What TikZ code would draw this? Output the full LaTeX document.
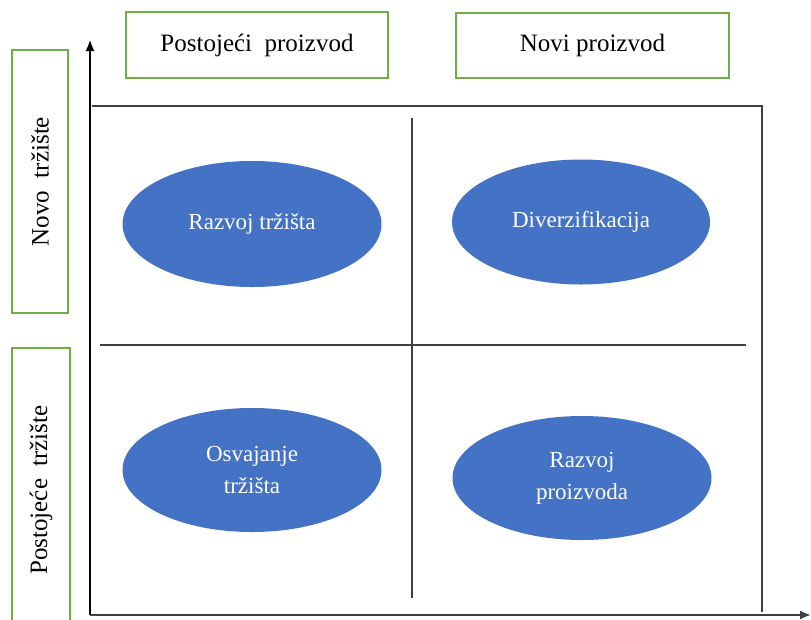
\documentclass[tikz,border=0pt]{standalone}
\usepackage{fontspec}
\setmainfont{Liberation Serif}
\usetikzlibrary{shapes.geometric,arrows.meta}
\definecolor{boxgreen}{HTML}{70AD47}
\definecolor{ellblue}{HTML}{4472C4}
\definecolor{linegray}{HTML}{404040}
\tikzset{
    headbox/.style={draw=boxgreen,line width=1.8pt,fill=white,inner sep=0pt,
        font=\fontsize{25}{30}\selectfont},
    sidebox/.style={headbox,rotate=90},
    strategy/.style={ellipse,fill=ellblue,text=white,inner sep=0pt,align=center,
        minimum width=259pt,minimum height=126pt,font=\fontsize{23}{32}\selectfont},
    gridline/.style={linegray,line width=1.1pt},
}
\begin{document}
\begin{tikzpicture}[x=1pt,y=-1pt]
                \clip (0,0) rectangle (811,619);
                \fill[white] (0,0) rectangle (811,619);
                %% axes
                \coordinate (origin) at (90,615);
                \coordinate (ytip) at (90,40);
                \coordinate (xtip) at (811,615);
                \draw[line width=1.2pt,-{Latex[length=11pt,width=9pt]}] (origin) -- (ytip);
                \draw[linegray,line width=2pt,-{Latex[length=11pt,width=9pt]}] (origin) -- (xtip);
                %% grid
                \coordinate (topl) at (92,106);
                \coordinate (topr) at (762,106);
                \coordinate (botr) at (762,612);
                \coordinate (midt) at (412,118);
                \coordinate (midb) at (412,598);
                \coordinate (midl) at (100,345);
                \coordinate (midr) at (746,345);
                \draw[gridline] (topl) -- (topr) -- (botr);
                \draw[gridline] (midt) -- (midb);
                \draw[gridline] (midl) -- (midr);
                %% headers
                \node[headbox,minimum width=262pt,minimum height=66pt] (oldprod) at (257,45) {Postojeći\ \ proizvod};
                \node[headbox,minimum width=273pt,minimum height=65pt] (newprod) at (592.5,45.5) {Novi proizvod};
                \node[sidebox,minimum width=263pt,minimum height=56pt] (newmkt) at (40,181.5) {Novo\ \ tržište};
                \node[sidebox,minimum width=284pt,minimum height=58pt] (oldmkt) at (41,490) {Postojeće\ \ tržište};
                %% quadrants
                \node[strategy] (mktdev) at (252,224) {Razvoj tržišta};
                \node[strategy,minimum width=258pt,minimum height=125pt] (divers) at (581,222) {Diverzifikacija};
                \node[strategy,minimum height=124pt] (penetr) at (252,470) {Osvajanje\\tržišta};
                \node[strategy,minimum height=124pt] (proddev) at (582,478) {Razvoj\\proizvoda};
            \end{tikzpicture}
\end{document}
